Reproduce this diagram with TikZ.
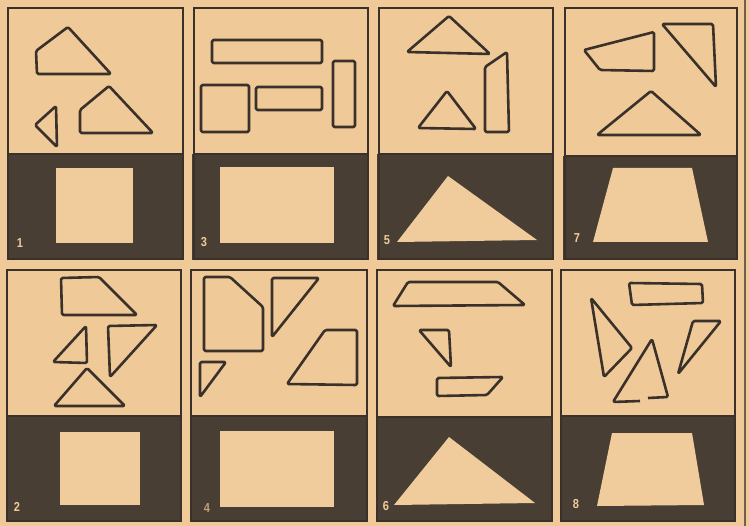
\documentclass[tikz,border=0pt]{standalone}
\usepackage{fontspec}
\setsansfont{Liberation Sans}
\definecolor{paper}{RGB}{239,201,151}
\definecolor{ink}{RGB}{58,50,42}
\definecolor{darkbg}{RGB}{72,62,52}
\definecolor{lightfig}{RGB}{240,204,156}
\tikzset{
  frameline/.style={draw=ink, line width=1.9pt},
  darkpart/.style={fill=darkbg},
  piece/.style={draw=ink, line width=2.6pt, rounded corners=1.5pt, line join=round},
  lightpiece/.style={fill=lightfig},
  numlabel/.style={text=lightfig, font=\sffamily\bfseries\fontsize{13}{13}\selectfont, inner sep=0pt, anchor=center, xscale=0.85}
}
\begin{document}
\begin{tikzpicture}[x=1pt,y=-1pt]
\fill[paper] (0,0) rectangle (749,526);
\useasboundingbox (0,0) rectangle (749,526);

% ---------- Row 1 panels ----------
% Panel 1
\fill[darkpart] (7,154) rectangle (183,260);
\draw[frameline] (8,8) rectangle (183,259);
\draw[frameline] (8,154) -- (183,154);
\draw[piece] (36,51) -- (68,27) -- (111,74) -- (37,74) -- cycle;
\draw[piece] (80,110) -- (109,86) -- (153,133) -- (80,133) -- cycle;
\draw[piece] (35,125) -- (56,106) -- (57,147) -- cycle;
\fill[lightpiece] (56,168) rectangle (133,243);
\node[numlabel] (n1) at (20,243) {1};

% Panel 3
\fill[darkpart] (192,154) rectangle (368,260);
\draw[frameline] (194,8) rectangle (368,259);
\draw[frameline] (194,154) -- (368,154);
\draw[piece] (212,40) rectangle (322,63);
\draw[piece] (333,61) rectangle (355,127);
\draw[piece] (201,85) rectangle (249,132);
\draw[piece] (256,87) rectangle (322,110);
\fill[lightpiece] (220,167) rectangle (334,243);
\node[numlabel] (n3) at (204,242) {3};

% Panel 5
\fill[darkpart] (377,154) rectangle (553,260);
\draw[frameline] (379,8) rectangle (553,259);
\draw[frameline] (379,154) -- (553,154);
\draw[piece] (407,52) -- (449,16) -- (490,54) -- cycle;
\draw[piece] (418,128) -- (447,91) -- (476,129) -- cycle;
\draw[piece] (485,67) -- (507,52) -- (509,132) -- (485,132) -- cycle;
\fill[lightpiece] (397,242) -- (448,176) -- (537,240) -- cycle;
\node[numlabel] (n5) at (387,240) {5};

% Panel 7
\fill[darkpart] (563,156) rectangle (737,260);
\draw[frameline] (565,8) rectangle (737,259);
\draw[frameline] (565,156) -- (737,156);
\draw[piece] (584,50) -- (654,32) -- (654,71) -- (600,70) -- cycle;
\draw[piece] (662,24) -- (713,24) -- (716,87) -- cycle;
\draw[piece] (597,135) -- (651,91) -- (701,135) -- cycle;
\fill[lightpiece] (613,168) -- (692,168) -- (708,242) -- (593,242) -- cycle;
\node[numlabel] (n7) at (577,238) {7};

% ---------- Row 2 panels ----------
% Panel 2
\fill[darkpart] (6,416) rectangle (181,521);
\draw[frameline] (7,270) rectangle (181,521);
\draw[frameline] (7,416) -- (181,416);
\draw[piece] (61,278) -- (99,277) -- (137,315) -- (62,315) -- cycle;
\draw[piece] (53,362) -- (86,326) -- (87,363) -- cycle;
\draw[piece] (108,326) -- (157,325) -- (110,377) -- cycle;
\draw[piece] (54,406) -- (87,368) -- (125,406) -- cycle;
\fill[lightpiece] (60,432) rectangle (140,505);
\node[numlabel] (n2) at (17,507) {2};

% Panel 4
\fill[darkpart] (191,416) rectangle (367,522);
\draw[frameline] (191,270) rectangle (367,521);
\draw[frameline] (191,416) -- (367,416);
\draw[piece] (204,277) -- (230,277) -- (263,307) -- (263,351) -- (204,351) -- cycle;
\draw[piece] (272,278) -- (319,278) -- (272,337) -- cycle;
\draw[piece] (287,384) -- (325,330) -- (357,330) -- (357,385) -- cycle;
\draw[piece] (200,362) -- (226,362) -- (200,397) -- cycle;
\fill[lightpiece] (220,431) rectangle (334,507);
\node[numlabel, text=lightfig!70!darkbg] (n4) at (207,508) {4};

% Panel 6
\fill[darkpart] (376,417) rectangle (552,522);
\draw[frameline] (377,270) rectangle (552,521);
\draw[frameline] (377,417) -- (552,417);
\draw[piece] (393,306) -- (408,282) -- (498,282) -- (525,305) -- cycle;
\draw[piece] (419,330) -- (449,330) -- (451,367) -- cycle;
\draw[piece] (437,378) -- (503,377) -- (487,395) -- (437,396) -- cycle;
\fill[lightpiece] (394,505) -- (449,437) -- (535,503) -- cycle;
\node[numlabel] (n6) at (386,506) {6};

% Panel 8
\fill[darkpart] (561,416) rectangle (736,522);
\draw[frameline] (561,270) rectangle (735,521);
\draw[frameline] (561,416) -- (735,416);
\draw[piece] (629,283) -- (702,284) -- (703,303) -- (632,305) -- cycle;
\draw[piece] (591,298) -- (632,348) -- (604,377) -- cycle;
\draw[piece] (640,401) -- (613,402) -- (652,339) -- (668,397) -- (648,398);
\draw[piece] (693,321) -- (721,321) -- (678,374) -- cycle;
\fill[lightpiece] (612,433) -- (692,433) -- (704,505) -- (597,506) -- cycle;
\node[numlabel] (n8) at (576,504) {8};

% edge of the neighbouring page
\draw[ink!70!paper, line width=1.2pt] (745,0) -- (745,526);
\end{tikzpicture}
\end{document}
